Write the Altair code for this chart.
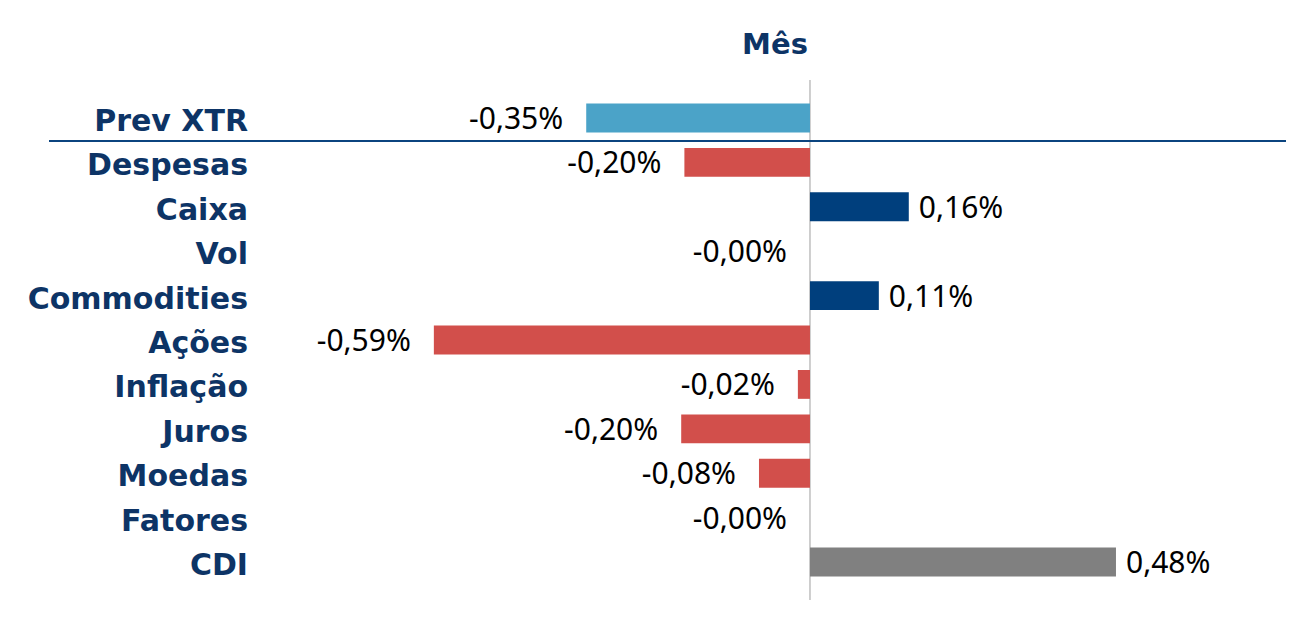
import altair as alt
import pandas as pd

categories = ["Prev XTR", "Despesas", "Caixa", "Vol", "Commodities", "Ações",
              "Inflação", "Juros", "Moedas", "Fatores", "CDI"]
values = [-0.351, -0.197, 0.155, -0.0, 0.108, -0.59, -0.019, -0.202, -0.08, -0.0, 0.48]
labels = ["-0,35%", "-0,20%", "0,16%", "-0,00%", "0,11%", "-0,59%",
          "-0,02%", "-0,20%", "-0,08%", "-0,00%", "0,48%"]
sides = ["neg", "neg", "pos", "neg", "pos", "neg", "neg", "neg", "neg", "neg", "pos"]
colors = ["#4BA3C8", "#D24F4B", "#003F7D", "#D24F4B", "#003F7D", "#D24F4B",
          "#D24F4B", "#D24F4B", "#D24F4B", "#D24F4B", "#808080"]

df = pd.DataFrame({"cat": categories, "v": values, "lab": labels,
                   "side": sides, "col": colors, "z": [0.0] * len(categories)})

W, H = 1237, 520
NAVY = "#0D3466"

x_scale = alt.Scale(domain=[-1.1937, 0.7467], nice=False, zero=False)
y_enc = alt.Y("cat:N", sort=categories, axis=None,
              scale=alt.Scale(paddingInner=0.35, paddingOuter=0.53))

base = alt.Chart(df)

bars = base.mark_bar().encode(
    x=alt.X("v:Q", scale=x_scale, axis=None),
    x2="z:Q",
    y=y_enc,
    color=alt.Color("col:N", scale=None),
)

neg_lab = base.transform_filter(alt.datum.side == "neg").mark_text(
    align="right", baseline="middle", dx=-23, dy=2, fontSize=30,
    font="Noto Sans", color="#000000"
).encode(x=alt.X("v:Q", scale=x_scale, axis=None), y=y_enc, text="lab:N")

pos_lab = base.transform_filter(alt.datum.side == "pos").mark_text(
    align="left", baseline="middle", dx=10, dy=2, fontSize=30,
    font="Noto Sans", color="#000000"
).encode(x=alt.X("v:Q", scale=x_scale, axis=None), y=y_enc, text="lab:N")

cat_lab = base.mark_text(
    align="right", baseline="middle", fontSize=30, fontWeight="bold",
    font="DejaVu Sans", color=NAVY, dy=4
).encode(x=alt.value(199), y=y_enc, text="cat:N")

zero_rule = base.transform_filter(alt.datum.cat == "CDI").mark_rule(
    color="#BFBFBF", strokeWidth=1.5
).encode(x=alt.X("z:Q", scale=x_scale, axis=None), y=alt.value(0), y2=alt.value(H))

sep_rule = base.transform_filter(alt.datum.cat == "CDI").mark_rule(
    color="#0B447F", strokeWidth=2
).encode(x=alt.value(0), x2=alt.value(W), y=alt.value(61))

title = base.transform_filter(alt.datum.cat == "CDI").mark_text(
    align="center", baseline="middle", fontSize=29, fontWeight="bold",
    font="DejaVu Sans", color=NAVY, text="Mês"
).encode(x=alt.value(726), y=alt.value(-35))

chart = alt.layer(zero_rule, bars, sep_rule, neg_lab, pos_lab, cat_lab, title).properties(
    width=W, height=H,
    autosize=alt.AutoSizeParams(type="none"),
    padding={"left": 41, "top": 72, "right": 20, "bottom": 20},
).configure_view(stroke=None)

chart.save("out.html", embed_options={"renderer": "svg", "actions": False})
